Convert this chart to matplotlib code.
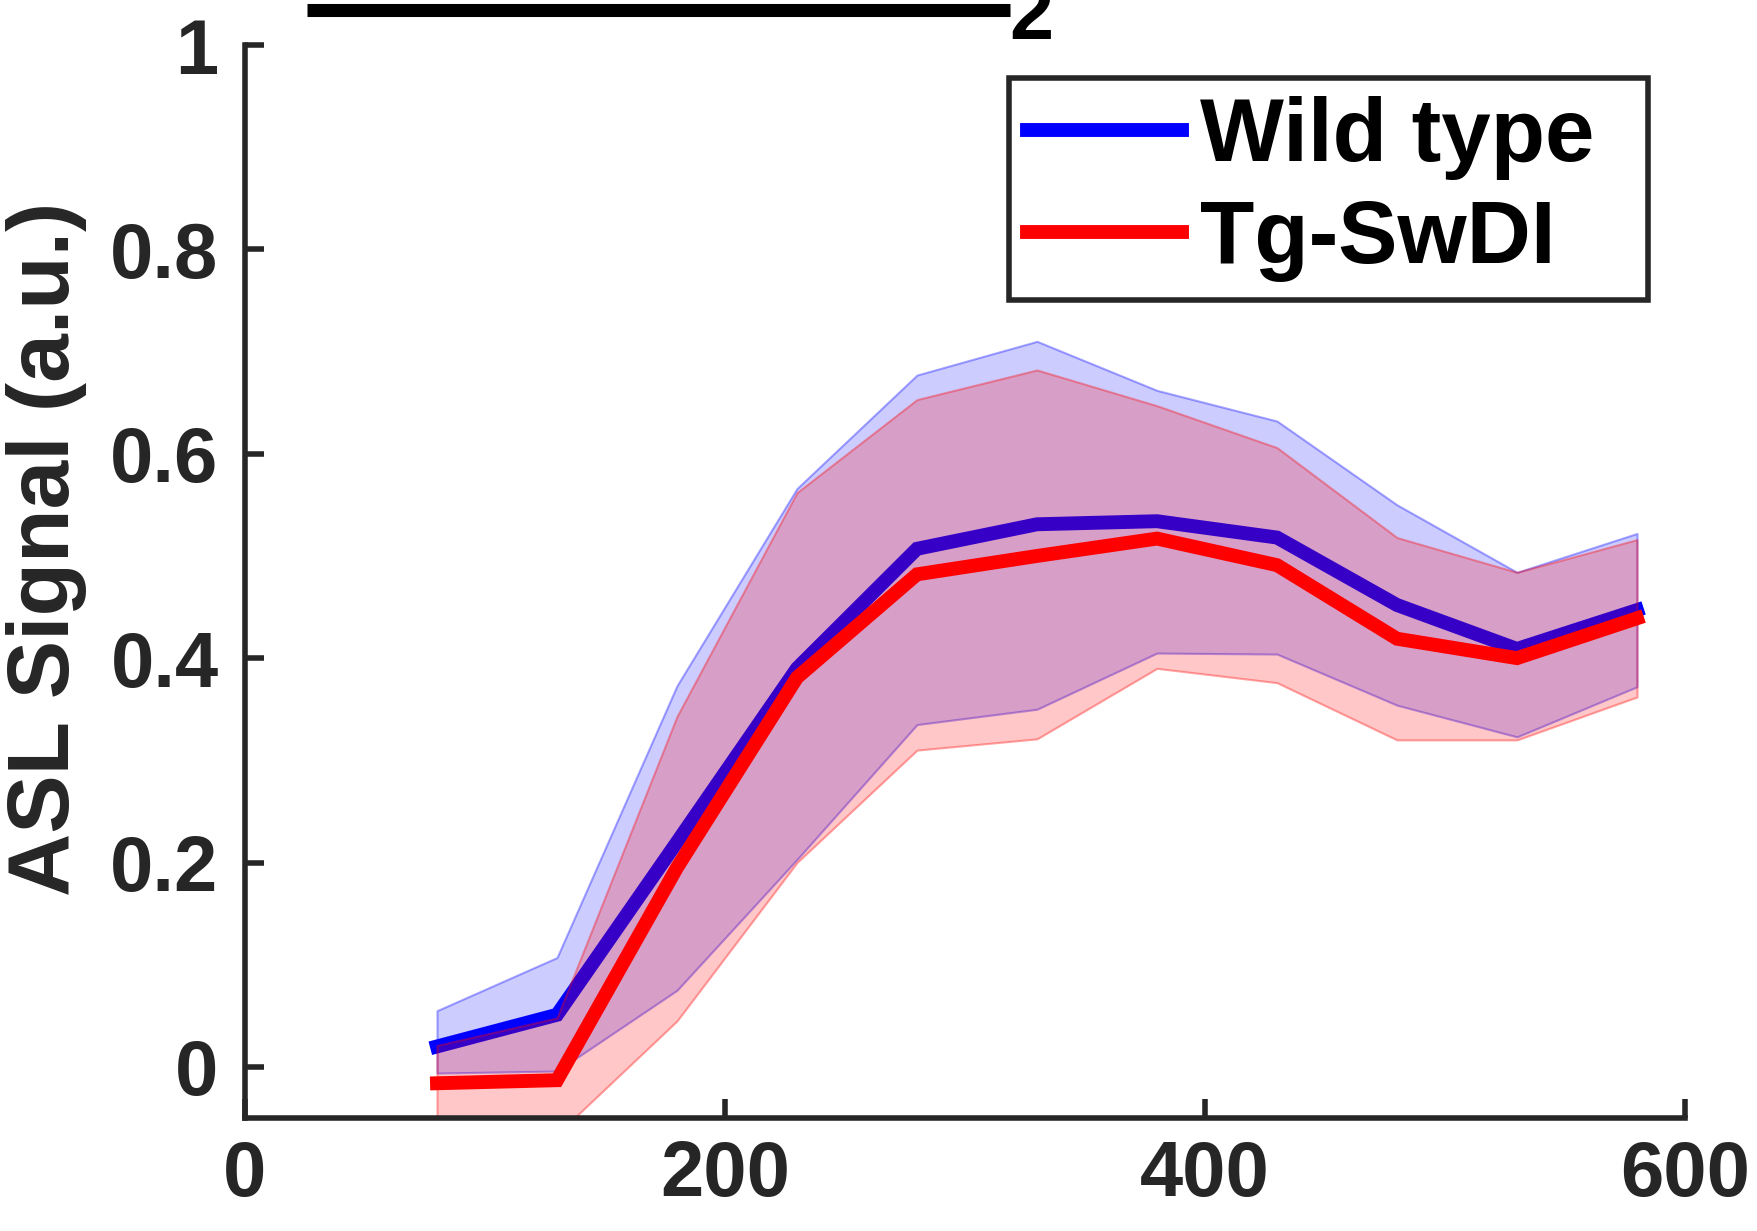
#!/usr/bin/env python3

import matplotlib
matplotlib.use("Agg")
import matplotlib.pyplot as plt

plt.rcParams["font.family"] = ["Liberation Sans", "DejaVu Sans"]
plt.rcParams["font.weight"] = "bold"

# time points
times = [80, 130, 180, 230, 280, 330, 380, 430, 480, 530, 580]

# wild type: mean and band
wt_mean = [0.020, 0.051, 0.220, 0.390, 0.507, 0.531, 0.534, 0.518, 0.452, 0.409, 0.447]
wt_upper = [0.055, 0.107, 0.373, 0.566, 0.677, 0.710, 0.662, 0.632, 0.550, 0.484, 0.522]
wt_lower = [-0.006, -0.004, 0.075, 0.203, 0.335, 0.350, 0.405, 0.404, 0.354, 0.323, 0.372]

# Tg-SwDI: mean and band
tg_mean = [-0.016, -0.013, 0.195, 0.381, 0.482, 0.500, 0.517, 0.491, 0.419, 0.400, 0.439]
tg_upper = [0.021, 0.048, 0.343, 0.562, 0.653, 0.682, 0.647, 0.606, 0.518, 0.484, 0.516]
tg_lower = [-0.070, -0.066, 0.045, 0.200, 0.310, 0.321, 0.390, 0.376, 0.320, 0.320, 0.362]

x_ticks = [0, 200, 400, 600]
y_ticks = [0, 0.2, 0.4, 0.6, 0.8, 1]
y_ticklabels = ["0", "0.2", "0.4", "0.6", "0.8", "1"]

dark = "#262626"
W, H = 1758, 1231

fig = plt.figure(figsize=(W / 100, H / 100), dpi=100)
ax = fig.add_axes([245 / W, 1 - 1118 / H, 1440 / W, 1073 / H])

# draw order: blue band, blue mean, red band (over blue mean), red mean
ax.fill_between(times, wt_lower, wt_upper, facecolor=(0, 0, 1, 0.2),
                edgecolor=(0, 0, 1, 0.35), linewidth=1.5, zorder=1)
ax.plot(times, wt_mean, color="#0000ff", linewidth=10, label="Wild type",
        solid_joinstyle="miter", zorder=2)
ax.fill_between(times, tg_lower, tg_upper, facecolor=(1, 0, 0, 0.22),
                edgecolor=(1, 0, 0, 0.35), linewidth=1.5, zorder=3)
ax.plot(times, tg_mean, color="#ff0000", linewidth=10, label="Tg-SwDI",
        solid_joinstyle="miter", zorder=4)

ax.set_xlim(0, 600)
ax.set_ylim(-0.05, 1)
ax.set_xticks(x_ticks)
ax.set_yticks(y_ticks)
ax.set_yticklabels(y_ticklabels)

for side in ["top", "right"]:
    ax.spines[side].set_visible(False)
for side in ["left", "bottom"]:
    ax.spines[side].set_linewidth(4)
    ax.spines[side].set_color(dark)
    ax.spines[side].set_zorder(5)

ax.tick_params(axis="both", direction="in", length=14, width=4, color=dark,
               labelcolor=dark, labelsize=56)
ax.tick_params(axis="x", pad=15)
ax.tick_params(axis="y", pad=19)

ax.set_ylabel("ASL Signal (a.u.)", fontsize=63, fontweight="bold", color=dark)
ax.yaxis.set_label_coords(-0.11, 0.53)

leg = ax.legend(loc="upper left", bbox_to_anchor=(0.5306, 0.5, 0.4438, 0.469),
                mode="expand", fontsize=64, handlelength=1.75,
                handletextpad=0.2, borderpad=0.2, labelspacing=0.2,
                fancybox=False, framealpha=1, borderaxespad=0)
leg.get_frame().set_linewidth(4)
leg.get_frame().set_edgecolor(dark)
leg.set_zorder(10)
for t in leg.get_texts():
    t.set_fontweight("bold")

# cropped element above the axes
fig.add_artist(plt.Line2D([307 / W, 1010 / W], [1 - 9.5 / H, 1 - 9.5 / H],
                          color="black", linewidth=9.4, solid_capstyle="butt",
                          transform=fig.transFigure))
fig.text(1031 / W, 1 - 39 / H, "2", fontsize=57, fontweight="bold",
         color="black", ha="center", va="baseline")

plt.savefig("out.png", dpi=100)
